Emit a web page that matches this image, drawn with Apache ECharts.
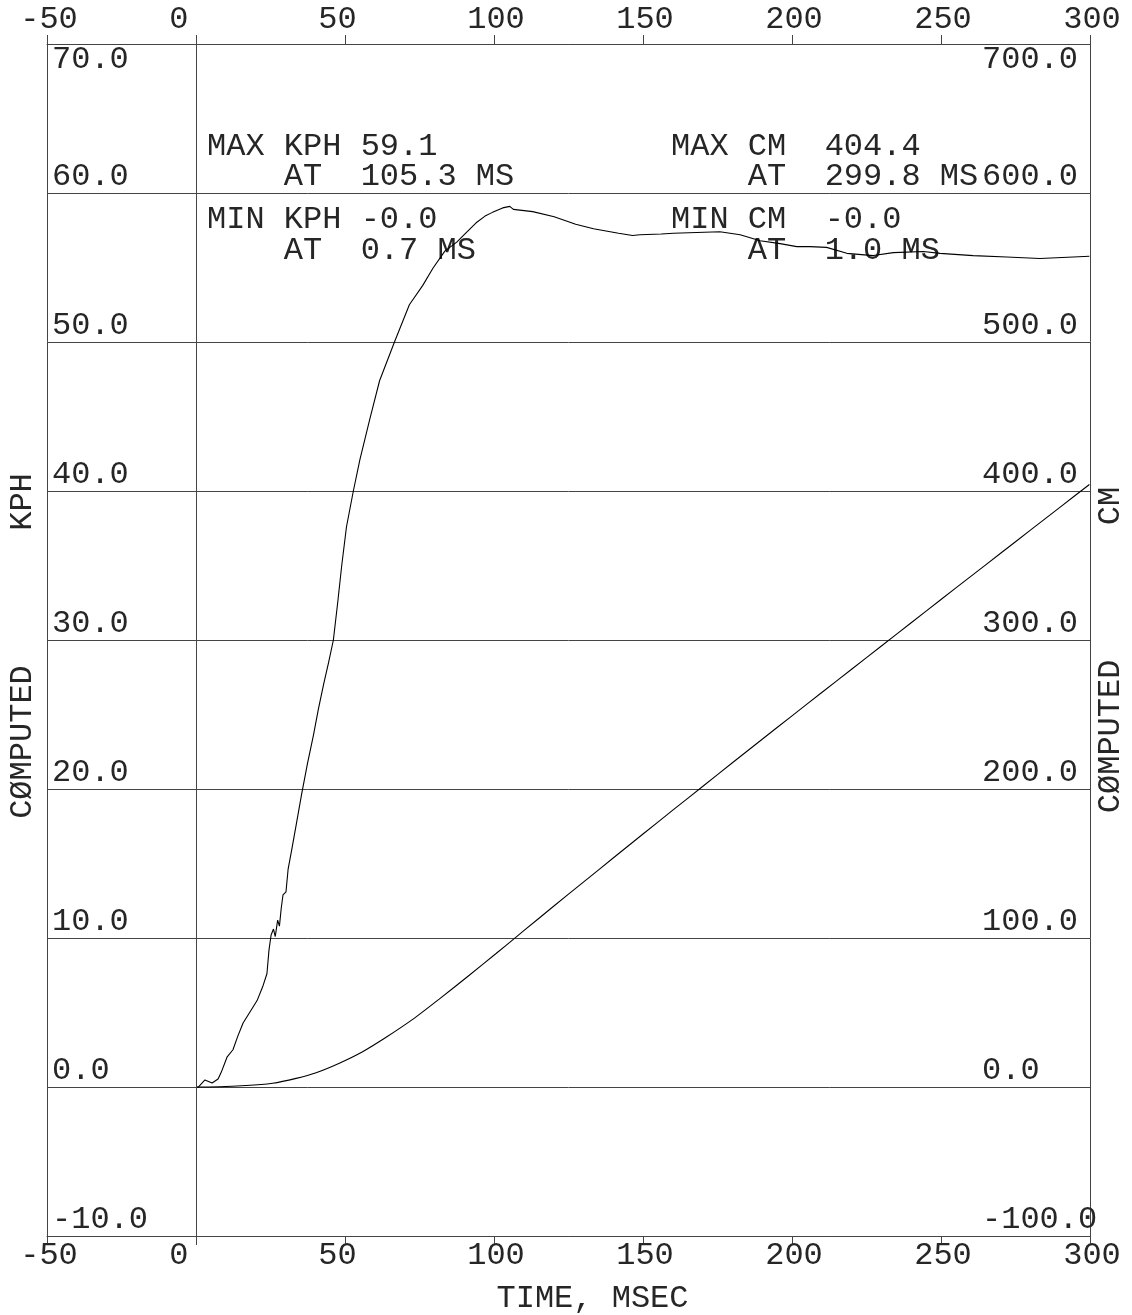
<!DOCTYPE html>
<html>
<head>
<meta charset="utf-8">
<title>Computed KPH / CM vs Time</title>
<script src="https://cdn.jsdelivr.net/npm/echarts@6/dist/echarts.min.js"></script>
<style>
  html, body { margin: 0; padding: 0; background: #fff; }
  #chart { width: 1132px; height: 1315px; }
</style>
</head>
<body>
<div id="chart"></div>
<script>
// Velocity trace (KPH, left axis) sampled in milliseconds
const timeKph = [0, 0.7, 3.0, 5.4, 7.4, 8.5, 10.4, 12.4, 14.0, 15.8, 18.0, 20.5, 22.5, 23.8, 24.5,
  25.2, 26.0, 26.6, 27.4, 28.0, 28.6, 29.2, 30.2, 30.9, 32.1, 33.8, 35.4, 37.4, 39.4, 41.1,
  42.8, 44.5, 46.1, 47.6, 48.9, 50.5, 52.8, 55.0, 58.3, 61.6, 66.6, 71.6, 76.1, 79.5, 83.5,
  87.5, 90.0, 94.0, 97.0, 99.5, 102.9, 105.3, 106.5, 113.0, 120.2, 127.4, 133.4, 141.8, 146.5, 149.0,
  156.1, 160.2, 168.0, 175.8, 182.6, 189.3, 196.0, 201.6, 206.0, 211.6, 218.4, 227.3, 234.0, 244.0, 249.7,
  260.8, 272.0, 283.2, 294.4, 299.8];
const kph = [0, -0.02, 0.47, 0.27, 0.54, 1.0, 2.0, 2.5, 3.4, 4.3, 5.0, 5.8, 6.8, 7.6, 9.2,
  10.2, 10.6, 10.1, 11.2, 10.8, 12.0, 12.9, 13.1, 14.6, 15.9, 17.8, 19.6, 21.7, 23.6, 25.4,
  27.0, 28.5, 30.0, 32.6, 35.0, 37.6, 40.0, 42.1, 44.8, 47.4, 50.0, 52.5, 53.8, 54.95, 56.1,
  56.7, 57.2, 58.0, 58.45, 58.7, 59.0, 59.1, 58.9, 58.75, 58.4, 57.9, 57.6, 57.3, 57.15, 57.2,
  57.25, 57.3, 57.35, 57.4, 57.2, 56.8, 56.6, 56.4, 56.4, 56.35, 55.95, 55.8, 56.0, 56.07, 55.95,
  55.8, 55.7, 55.6, 55.7, 55.75];

// Displacement trace (CM, right axis)
const timeCm = [0, 1.0, 16.8, 25.7, 33.6, 40.3, 48.1, 55.9, 63.8, 72.7, 81.6, 91.7, 100.7, 107.4,
  110, 120, 130, 140, 150, 160, 170, 180, 190, 200, 210, 220, 230, 240, 250, 260, 270, 280, 290, 299.8];
const cm = [0, -0.01, 1.0, 2.5, 5.8, 9.6, 16.0, 23.7, 33.4, 45.4, 59.0, 75.0, 89.6, 100.6,
  104.9, 121.3, 137.5, 153.7, 169.8, 185.8, 201.7, 217.6, 233.4, 249.1, 264.8, 280.4, 296.0, 311.6,
  327.2, 342.7, 358.2, 373.7, 389.2, 404.4];

// Axis ranges: [min, max, interval]
const timeRange = [-50, 300, 50];
const kphRange = [-10, 70, 10];
const cmRange = [-100, 700, 100];

const FONT = '"Liberation Mono", "DejaVu Sans Mono", monospace';
const INK = '#262626';
const RULE = '#444';

function extreme(ts, vs, pickMax) {
  let k = 0;
  for (let i = 1; i < vs.length; i++) {
    if (pickMax ? vs[i] > vs[k] : vs[i] < vs[k]) k = i;
  }
  return { t: ts[k], v: vs[k] };
}
const kMax = extreme(timeKph, kph, true);
const kMin = extreme(timeKph, kph, false);
const cMax = extreme(timeCm, cm, true);
const cMin = extreme(timeCm, cm, false);

const pairs = (ts, vs) => ts.map((t, i) => [t, vs[i]]);

// Time labels sit in a fixed three-character field
const xLabel = {
  fontFamily: FONT, fontSize: 32, color: INK, padding: [0, 0, 0, 4],
  formatter: v => String(v).padEnd(3, ' ')
};

function timeAxis(pos, margin, extra) {
  return Object.assign({
    type: 'value', position: pos,
    min: timeRange[0], max: timeRange[1], interval: timeRange[2],
    axisLine: { show: true, onZero: false, lineStyle: { color: RULE, width: 1 } },
    axisTick: { show: true, inside: false, length: 9, lineStyle: { color: RULE, width: 1 } },
    axisLabel: Object.assign({ margin: margin }, xLabel),
    splitLine: { show: false },
    nameMoveOverlap: false
  }, extra || {});
}

const yLabelBase = {
  inside: true, align: 'left', verticalAlign: 'bottom', verticalAlignMaxLabel: 'top',
  padding: [0, 0, 0, 0],
  fontFamily: FONT, fontSize: 32, color: INK,
  formatter: v => v.toFixed(1)
};

function noteText(x, y, text) {
  return {
    type: 'text', x: x, y: y, silent: true,
    style: { text: text, font: '32px ' + FONT, fill: INK, align: 'left', verticalAlign: 'middle' }
  };
}

const chart = echarts.init(document.getElementById('chart'), null, { renderer: 'canvas' });
chart.setOption({
  animation: false,
  backgroundColor: '#fff',
  grid: { left: 47, right: 42, top: 44, bottom: 79, containLabel: false, outerBoundsMode: 'none' },
  xAxis: [
    timeAxis('bottom', 4, {
      name: 'TIME, MSEC', nameLocation: 'middle', nameGap: 47,
      nameTextStyle: { fontFamily: FONT, fontSize: 32, color: INK, padding: [0, 0, 0, 48] }
    }),
    timeAxis('top', 8)
  ],
  yAxis: [
    {
      type: 'value', position: 'left',
      min: kphRange[0], max: kphRange[1], interval: kphRange[2],
      axisLine: { show: true, onZero: false, lineStyle: { color: RULE, width: 1 } },
      axisTick: { show: false },
      axisLabel: Object.assign({ margin: 5 }, yLabelBase),
      splitLine: { show: true, lineStyle: { color: RULE, width: 1, type: 'solid' } },
      name: 'CØMPUTED       KPH', nameLocation: 'middle', nameRotate: 90, nameGap: 8,
      nameMoveOverlap: false,
      nameTextStyle: { fontFamily: FONT, fontSize: 32, color: INK, padding: [0, 12, 0, 0] }
    },
    {
      type: 'value', position: 'right',
      min: cmRange[0], max: cmRange[1], interval: cmRange[2],
      axisLine: { show: true, onZero: false, lineStyle: { color: RULE, width: 1 } },
      axisTick: { show: false },
      axisLabel: Object.assign({ margin: 108 }, yLabelBase),
      splitLine: { show: false },
      name: 'CØMPUTED       CM', nameLocation: 'middle', nameRotate: 90, nameGap: 5,
      nameMoveOverlap: false,
      nameTextStyle: { fontFamily: FONT, fontSize: 32, color: INK, padding: [0, 20, 0, 0] }
    }
  ],
  series: [
    {
      name: 'KPH', type: 'line', xAxisIndex: 0, yAxisIndex: 0,
      data: pairs(timeKph, kph), showSymbol: false, symbol: 'none',
      lineStyle: { color: '#000', width: 1.1 },
      markLine: {
        silent: true, symbol: ['none', 'none'], label: { show: false },
        lineStyle: { color: RULE, width: 1, type: 'solid' },
        data: [{ xAxis: 0 }]
      }
    },
    {
      name: 'CM', type: 'line', xAxisIndex: 0, yAxisIndex: 1,
      data: pairs(timeCm, cm), showSymbol: false, symbol: 'none', smooth: 0.2,
      lineStyle: { color: '#000', width: 1.1 }
    }
  ],
  graphic: [
    noteText(207, 147, 'MAX KPH ' + kMax.v.toFixed(1)),
    noteText(207, 177, '    AT  ' + kMax.t.toFixed(1) + ' MS'),
    noteText(207, 220, 'MIN KPH ' + kMin.v.toFixed(1)),
    noteText(207, 251, '    AT  ' + kMin.t.toFixed(1) + ' MS'),
    noteText(671, 147, 'MAX CM  ' + cMax.v.toFixed(1)),
    noteText(671, 177, '    AT  ' + cMax.t.toFixed(1) + ' MS'),
    noteText(671, 220, 'MIN CM  ' + cMin.v.toFixed(1)),
    noteText(671, 251, '    AT  ' + cMin.t.toFixed(1) + ' MS')
  ]
});
</script>
</body>
</html>
